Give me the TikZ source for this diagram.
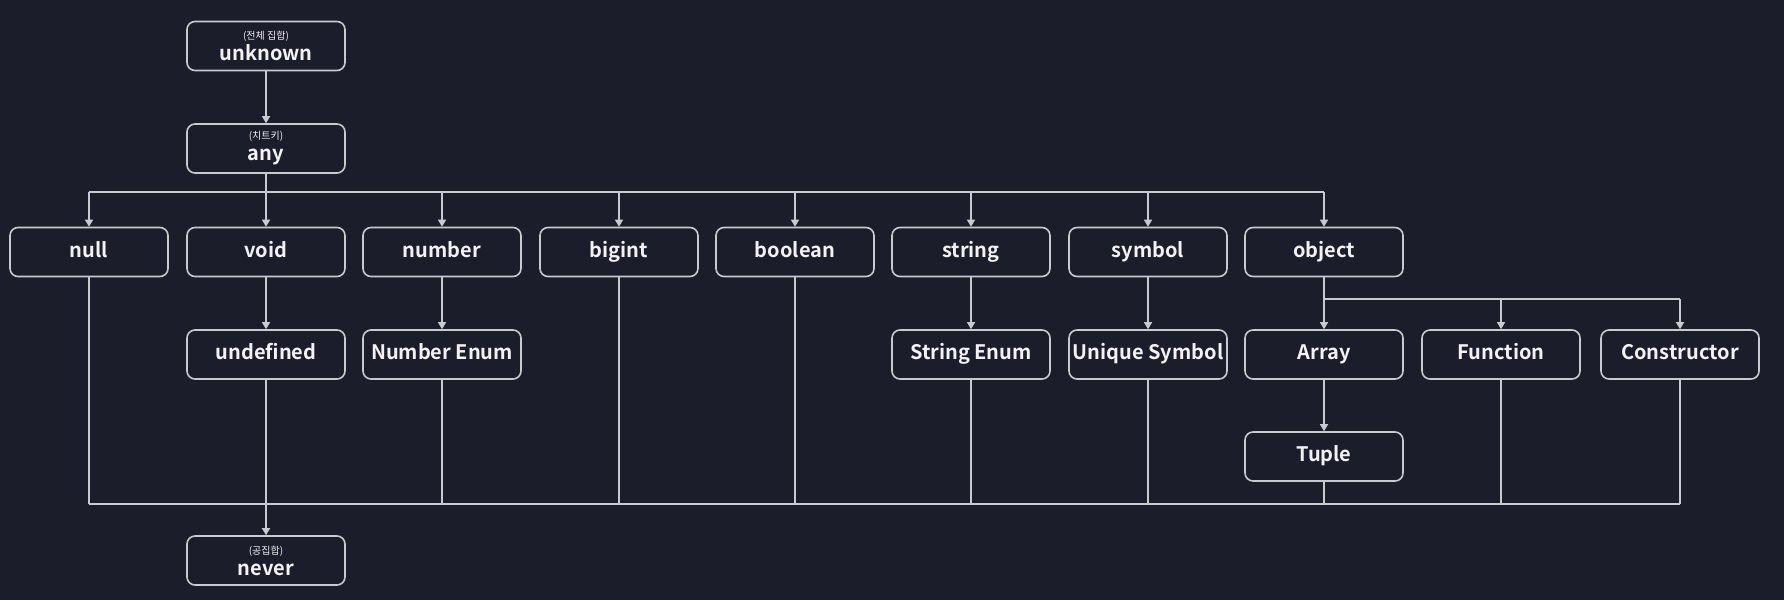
\documentclass[tikz,border=0pt]{standalone}
\usepackage{fontspec}
\setmainfont{Noto Sans CJK KR}[BoldFont={Noto Sans CJK KR Bold}]
\usetikzlibrary{arrows.meta}
\definecolor{bg}{HTML}{1C1D2B}
\definecolor{ln}{HTML}{C9CACF}
\definecolor{tx}{HTML}{F2F2F4}
\tikzset{
  tbox/.style={draw=ln, line width=1.6pt, fill=bg, rounded corners=8pt,
    minimum width=158pt, minimum height=49pt, inner sep=0pt, text=tx,
    align=center, font=\fontsize{20}{22}\selectfont\bfseries,
    text height=14pt, text depth=4pt},
  two/.style={text height=, text depth=},
  conn/.style={draw=ln, line width=1.3pt},
  arr/.style={conn, -{Triangle[width=8pt,length=7pt]}},
}
\newcommand{\sub}[2]{{\fontsize{10}{11}\selectfont\mdseries #1}\\[-1pt]#2}
\begin{document}
\begin{tikzpicture}[x=1pt,y=-1pt]
\fill[bg] (0,0) rectangle (1784,600);
\useasboundingbox (0,0) rectangle (1784,600);
% top
\node[tbox,two] (unknown) at (266,46) {\sub{(전체 집합)}{unknown}};
\node[tbox,two] (any) at (266,148.5) {\sub{(치트키)}{any}};
% row 1
\node[tbox] (null) at (89,252) {null};
\node[tbox] (void) at (266,252) {void};
\node[tbox] (number) at (442,252) {number};
\node[tbox] (bigint) at (619,252) {bigint};
\node[tbox] (boolean) at (795,252) {boolean};
\node[tbox] (string) at (971,252) {string};
\node[tbox] (symbol) at (1148,252) {symbol};
\node[tbox] (object) at (1324,252) {object};
% row 2
\node[tbox] (undef) at (266,354.5) {undefined};
\node[tbox] (numenum) at (442,354.5) {Number Enum};
\node[tbox] (strenum) at (971,354.5) {String Enum};
\node[tbox] (usym) at (1148,354.5) {Unique Symbol};
\node[tbox] (array) at (1324,354.5) {Array};
\node[tbox] (func) at (1501,354.5) {Function};
\node[tbox] (cons) at (1680,354.5) {Constructor};
% row 3
\node[tbox] (tuple) at (1324,456.5) {Tuple};
% bottom
\node[tbox,two] (never) at (266,560.5) {\sub{(공집합)}{never}};
% bus coordinates
\coordinate (b1) at (266,192);
\coordinate (b2) at (1324,299);
\coordinate (b3) at (266,504);
% connectors
\draw[arr] (unknown) -- (any);
\draw[conn] (any) -- (b1);
\draw[conn] (b1 -| null) -- (b1 -| object);
\foreach \n in {null,void,number,bigint,boolean,string,symbol,object}
  \draw[arr] (b1 -| \n) -- (\n);
\draw[arr] (void) -- (undef);
\draw[arr] (number) -- (numenum);
\draw[arr] (string) -- (strenum);
\draw[arr] (symbol) -- (usym);
\draw[conn] (object) -- (b2);
\draw[conn] (b2) -- (b2 -| cons);
\foreach \n in {array,func,cons}
  \draw[arr] (b2 -| \n) -- (\n);
\draw[arr] (array) -- (tuple);
% to bottom bus
\foreach \n in {null,numenum,bigint,boolean,strenum,usym,tuple,func,cons}
  \draw[conn] (\n.south) -- (b3 -| \n);
\draw[conn] (b3 -| null) -- (b3 -| cons);
\draw[arr] (undef) -- (never);
\end{tikzpicture}
\end{document}
